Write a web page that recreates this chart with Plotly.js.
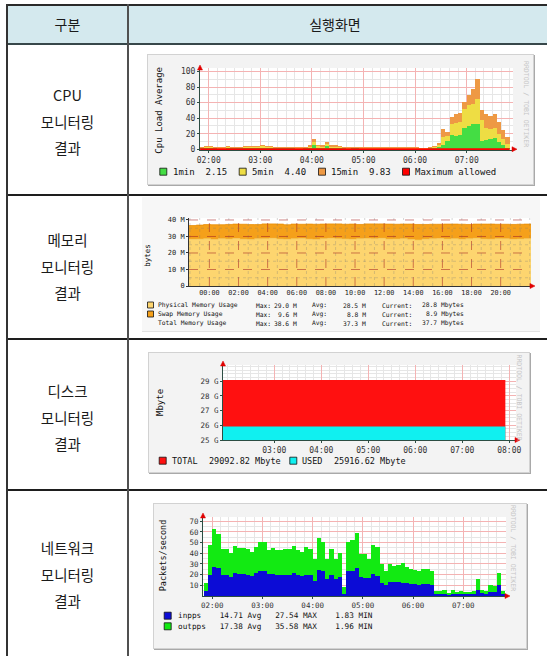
<!DOCTYPE html>
<html lang="ko"><head><meta charset="utf-8">
<script src="https://cdn.plot.ly/plotly-3.0.1.min.js"></script>
<style>
html,body{margin:0;padding:0;background:#fff;}
body{width:547px;height:656px;overflow:hidden;position:relative;font-family:"Noto Sans CJK KR","Noto Sans",sans-serif;}
.ln{position:absolute;}
.cell{position:absolute;text-align:center;color:#1a1a1a;font-size:14.5px;line-height:26.5px;}
.hd{position:absolute;text-align:center;color:#1a1a1a;font-size:14px;line-height:20px;}
.rrd{position:absolute;box-shadow:0 0 0 1px #d2d2d2, 1px 1px 0 1px #a9a9a9;}
.mrtg{position:absolute;box-shadow:0 1px 0 #e2e2e2;}
</style></head><body>
<div class="ln" style="left:7px;top:5px;width:560px;height:39px;background:#d4e9ee"></div>
<div class="ln" style="left:6px;top:4px;width:560px;height:2px;background:#2a2a2a"></div>
<div class="ln" style="left:6px;top:43px;width:560px;height:2px;background:#37474a"></div>
<div class="ln" style="left:6px;top:194px;width:560px;height:2px;background:#1e1e1e"></div>
<div class="ln" style="left:6px;top:338px;width:560px;height:2px;background:#1e1e1e"></div>
<div class="ln" style="left:6px;top:489px;width:560px;height:2px;background:#1e1e1e"></div>
<div class="ln" style="left:6px;top:4px;width:2px;height:660px;background:#333"></div>
<div class="ln" style="left:127px;top:4px;width:2px;height:660px;background:#505050"></div>
<div class="hd" style="left:8px;width:119px;top:14px">구분</div>
<div class="hd" style="left:129px;width:412px;top:14px">실행화면</div>
<div class="cell" style="left:8px;width:119px;top:82px">CPU<br>모니터링<br>결과</div>
<div class="cell" style="left:8px;width:119px;top:227px">메모리<br>모니터링<br>결과</div>
<div class="cell" style="left:8px;width:119px;top:378px">디스크<br>모니터링<br>결과</div>
<div class="cell" style="left:8px;width:119px;top:535px">네트워크<br>모니터링<br>결과</div>

<div id="cpu" class="rrd" style="left:148px;top:55px;width:385px;height:129px"></div>
<div id="mem" class="mrtg" style="left:142px;top:197px;width:398px;height:134px"></div>
<div id="disk" class="rrd" style="left:149px;top:353px;width:380px;height:119px"></div>
<div id="net" class="rrd" style="left:154px;top:504px;width:372px;height:144px"></div>

<script>
// ---------------- DATA ----------------
// CPU load (5-minute steps from 01:50), stacked 1min / 5min / 15min
const cpuStart = '2024-01-01 01:50:00';
const cpuStepMin = 5;
const load1 = [1,1.2,1.1,1,0.8,0.9,1.4,1,1,1.1,1.2,1.1,1.2,1.1,
  1.8,1.3,1.1,1,1,1,1,1,0.8,0.9,1,1.5,
  5.5,1.8,1.4,4,1.6,1.3,1.1,1,0.7,1,1,0.8,
  0.7,0.7,0.9,0.7,0.7,0.7,0.7,0.7,0.7,0.7,0.7,0.7,0.7,0.6,0.6,
  1,2,3,6,10,18,17,18,27,30,33,33,10,12,13,14,9,5,2.15];
const load5 = [1.1,1.3,1.3,1.1,1,1,1.5,1.1,1.1,1.1,1.3,1.3,1.3,1.3,
  1.8,1.4,1.3,1.1,1.1,1.1,1.1,1.1,1,1,1.1,1.5,
  3.5,1.8,1.5,2.5,1.8,1.5,1.3,1.1,0.8,1.1,1.1,1,
  0.8,0.8,1,0.8,0.8,0.8,0.8,0.8,0.8,0.8,0.8,0.8,0.8,0.6,0.6,
  1,1,2,10,7,15,17,17,25,27,25,32,28,15,13,13,11,8,4.40];
const load15 = [1.4,1.5,1.6,1.4,1.2,1.1,1.6,1.4,1.4,1.3,1.5,1.6,1.5,1.6,
  2.4,1.8,1.6,1.4,1.4,1.4,1.4,1.4,1.2,1.1,1.4,2,
  4,2.4,2.1,3,2.6,2.2,1.6,1.4,1,1.4,1.4,1.2,
  1,1,1.1,1,1,1,1,1,1,1,1,1,1,0.8,0.8,
  1,1,3,10,5,9,12,12,9,13,20,25,13,18,17,18,15,12,9.83];
const maxAllowedTimes = ['2024-01-01 01:50:00','2024-01-01 07:50:00'];
const maxAllowed = [0, 0];
const cpuLegendText = ['1min  2.15','5min  4.40','15min  9.83','Maximum allowed'];

// Memory (30-minute steps from 22:36 previous day), stacked, in M
const memStart = '2024-01-01 22:36:00';
const memStepMin = 30;
const memPhysical = [28.3,28.4,28.6,28.2,28.7,28.5,28.8,28.4,28.1,28.6,28.7,28.9,28.5,28.3,28.6,28.8,
  28.4,28.2,28.7,28.9,28.6,28.5,28.3,28.7,28.8,28.6,28.9,28.4,28.5,28.7,28.2,27.9,
  28.4,28.6,28.8,28.5,28.7,28.3,28.6,28.9,28.5,28.4,28.7,28.6,28.3,28.5,28.7,28.8];
const memSwap = [8.3,8.5,8.6,8.9,8.4,8.8,8.7,9.0,9.1,8.6,8.9,8.7,9.0,8.8,8.9,8.6,
  9.1,9.2,8.8,8.7,9.0,8.9,9.2,8.6,8.8,9.0,8.7,9.1,8.9,8.8,9.3,9.4,
  8.9,8.8,8.6,9.0,8.8,9.1,8.7,8.6,9.0,9.1,8.7,8.8,9.0,8.9,8.8,8.9];
const memTickHours = ['2024-01-02 00:00:00','2024-01-02 02:00:00','2024-01-02 04:00:00','2024-01-02 06:00:00',
  '2024-01-02 08:00:00','2024-01-02 10:00:00','2024-01-02 12:00:00','2024-01-02 14:00:00',
  '2024-01-02 16:00:00','2024-01-02 18:00:00','2024-01-02 20:00:00'];
const memYTicks = [0,10,20,30,40];
const memYTickText = ['0','10 M','20 M','30 M','40 M'];
const memLegendRows = [
  ['Physical Memory Usage','29.0 M','28.5 M','28.8 Mbytes'],
  ['Swap Memory Usage','9.6 M','8.8 M','8.9 Mbytes'],
  ['Total Memory Usage','38.6 M','37.3 M','37.7 Mbytes']];

// Disk (Mbyte)
const diskTimes = ['2024-01-01 01:54:30','2024-01-01 07:55:00'];
const diskTotal = [29092.82, 29092.82];
const diskUsed = [25916.62, 25916.62];
const diskYTicks = [25000,26000,27000,28000,29000];
const diskYTickText = ['25 G','26 G','27 G','28 G','29 G'];
const diskXTicks = ['2024-01-01 03:00:00','2024-01-01 04:00:00','2024-01-01 05:00:00',
  '2024-01-01 06:00:00','2024-01-01 07:00:00','2024-01-01 08:00:00'];

// Network packets/second (5-minute steps from 01:50), stacked
const netStart = '2024-01-01 01:50:00';
const netStepMin = 5;
const inpps = [5,20,27,26,20,20,18,22,21,21,20,19,22,23.5,23.5,21,21,20,20,20,20,21.5,20,19,
  20,20,14,24,23,16,20,16,18,2,23,23,26,18,17,17,21,19,12,10,13,13,13,12,
  12,11,11,10,11,11,10,2,2,2,1,2,1.5,2,1.5,1.5,2,6,3,2,4,4,10,2];
const outpps = [7,28,36,32,24,24,22,25,24,24,24,22,24,27.5,27.5,22,24,23,23,24,24,25.5,23,22,
  26,24,21,30,28,19,24,19,22,6,28,29,33,21,22,18,27,27,18,13,17,15,16,19,
  15,14,13,13,14,14,13,3,3,4,2,4,2.5,3,2.5,2.5,3,10,3,3,6,5,12,3];
const netLegendText = ['inpps    14.71 Avg   27.54 MAX    1.83 MIN',
                       'outpps   17.38 Avg   35.58 MAX    1.96 MIN'];

// ---------------- HELPERS ----------------
const mono = 'DejaVu Sans Mono';
const AX = '#2c4d43', MAJ = '#f4b3b3', MIN = '#e6e6e6', ARROW = '#e00000';
function tstr(ms){ return new Date(ms).toISOString().replace('T',' ').slice(0,19); }
function times(start, stepMin, n){
  const b = Date.parse(start.replace(' ','T')+'Z');
  return Array.from({length:n}, (_, i) => tstr(b + i*stepMin*60000));
}
function nb(s){ return s.replace(/ /g, '\u00a0'); }
function px(g, xa){ return (xa - g.left - g.l)/(g.w - g.l - g.r); }
function py(g, ya){ return 1 - (ya - g.top - g.t)/(g.h - g.t - g.b); }
function txt(g, xa, ya, text, size, opt){
  return Object.assign({xref:'paper', yref:'paper', x:px(g,xa), y:py(g,ya), text:nb(text), showarrow:false,
    xanchor:'left', yanchor:'middle', font:{family:mono, size:size, color:'#111'}}, opt||{});
}
function sq(g, cx, cy, s, color){
  return {type:'rect', xref:'paper', yref:'paper', x0:px(g,cx-s/2), x1:px(g,cx+s/2),
    y0:py(g,cy+s/2), y1:py(g,cy-s/2), fillcolor:color, line:{color:'#111', width:0.8}, layer:'above'};
}
function tri(g, pts, color){
  const p = pts.map((q, i) => (i ? 'L' : 'M') + px(g,q[0]) + ',' + py(g,q[1])).join(' ') + ' Z';
  return {type:'path', xref:'paper', yref:'paper', path:p, fillcolor:color, line:{color:color, width:0.5}, layer:'above'};
}
function upArrow(g, x, y){ return tri(g, [[x-2.5,y+5],[x,y],[x+2.5,y+5]], ARROW); }
function rightArrow(g, x, y){ return tri(g, [[x-5,y-2.5],[x,y],[x-5,y+2.5]], ARROW); }
function rrdX(range, extra){
  return Object.assign({type:'date', range:range, tickformat:'%H:%M', dtick:3600000, tick0:'2024-01-01 00:00:00',
    showgrid:true, gridcolor:MAJ, gridwidth:1,
    minor:{dtick:600000, tick0:'2024-01-01 00:00:00', showgrid:true, gridcolor:MIN, gridwidth:1},
    showline:true, linecolor:AX, linewidth:1, ticks:'outside', ticklen:2, tickcolor:AX,
    zeroline:false, automargin:false, fixedrange:true, tickfont:{family:mono, size:8, color:'#333'}}, extra||{});
}
function rrdY(range, dtick, minor, extra){
  return Object.assign({range:range, dtick:dtick, tick0:0, showgrid:true, gridcolor:MAJ, gridwidth:1,
    minor:{dtick:minor, showgrid:true, gridcolor:MIN, gridwidth:1},
    showline:true, linecolor:AX, linewidth:1, ticks:'outside', ticklen:2, tickcolor:AX,
    zeroline:false, automargin:false, fixedrange:true, tickfont:{family:mono, size:8, color:'#333'}}, extra||{});
}
function baseLayout(g){
  return {width:g.w, height:g.h, margin:{l:g.l, r:g.r, t:g.t, b:g.b, pad:0},
    paper_bgcolor:'#f3f3f3', plot_bgcolor:'#ffffff', showlegend:false,
    barmode:'stack', bargap:0, font:{family:mono, size:8, color:'#333'}};
}
const cfg = {staticPlot:true, displayModeBar:false};

// ---------------- CPU ----------------
(function(){
  const g = {left:148, top:55, w:385, h:129, l:52, r:20, t:13, b:34};
  const x = times(cpuStart, cpuStepMin, load1.length);
  const bw = cpuStepMin*60000;
  const cols = ['#44dd44','#eedd44','#ee9944','#ff0000'];
  const bar = (y, c, n) => ({type:'bar', x:x, y:y, width:bw, offset:0, name:n, marker:{color:c, line:{width:0}}});
  const data = [bar(load1, cols[0], '1min'), bar(load5, cols[1], '5min'), bar(load15, cols[2], '15min'),
    {type:'scatter', mode:'lines', x:maxAllowedTimes, y:maxAllowed, name:'Maximum allowed', line:{color:cols[3], width:2}}];
  const L = baseLayout(g);
  L.xaxis = rrdX(['2024-01-01 01:49:54','2024-01-01 07:53:50']);
  L.yaxis = rrdY([-1, 104.7], 20, 10);
  const sqx = [163.3, 242.7, 322, 406], tx = [170.7, 250, 329.3, 413.3];
  L.shapes = [upArrow(g, 200, 65), rightArrow(g, 517, 149.2)];
  L.annotations = [
    txt(g, 158.7, 110, 'Cpu Load Average', 9, {xanchor:'center', textangle:-90}),
    txt(g, 526, 104, 'RRDTOOL / TOBI OETIKER', 6.5, {xanchor:'center', textangle:90, font:{family:mono, size:6.5, color:'#c6c6c6'}})
  ];
  cpuLegendText.forEach((s, i) => {
    L.shapes.push(sq(g, sqx[i], 171.7, 7, cols[i]));
    L.annotations.push(txt(g, tx[i], 171.7, s, 9));
  });
  Plotly.newPlot('cpu', data, L, cfg);
})();

// ---------------- MEMORY ----------------
(function(){
  const g = {left:142, top:197, w:398, h:134, l:47, r:9, t:21, b:45};
  const x = times(memStart, memStepMin, memPhysical.length);
  const cPhys = '#fdd56f', cSwap = '#f5a01a';
  const data = [
    {type:'scatter', mode:'lines', x:x, y:memPhysical, stackgroup:'m', line:{shape:'hv', width:0.6, color:'#f2c95c'}, fillcolor:cPhys, name:'Physical'},
    {type:'scatter', mode:'lines', x:x, y:memSwap, stackgroup:'m', line:{shape:'hv', width:0.8, color:'#e88d06'}, fillcolor:cSwap, name:'Swap'}
  ];
  const L = baseLayout(g);
  L.paper_bgcolor = '#f7f7f7';
  const xr = ['2024-01-01 22:36:00','2024-01-02 22:05:00'];
  L.xaxis = {type:'date', range:xr, tickvals:memTickHours, tickformat:'%H:%M', showgrid:false,
    showline:true, linecolor:'#333', linewidth:1, ticks:'', zeroline:false, automargin:false,
    tickfont:{family:mono, size:6.8, color:'#222'}};
  L.yaxis = {range:[0, 41.2], tickvals:memYTicks, ticktext:memYTickText, showgrid:false,
    showline:true, linecolor:'#333', linewidth:1, ticks:'outside', ticklen:2, tickcolor:'#333',
    zeroline:false, automargin:false, tickfont:{family:mono, size:7, color:'#222'}};
  const shapes = [];
  const majC = 'rgba(165,35,35,0.55)', minC = 'rgba(120,120,120,0.3)';
  // minor vertical grid every 40 min, major every 2 h (drawn above the areas, MRTG style)
  const t0 = Date.parse('2024-01-01T22:40:00Z'), tEnd = Date.parse('2024-01-02T22:05:00Z');
  for (let t = t0; t <= tEnd; t += 40*60000) {
    const major = memTickHours.includes(tstr(t));
    shapes.push({type:'line', xref:'x', yref:'paper', x0:tstr(t), x1:tstr(t), y0:0, y1:1, layer:'above',
      line:{color: major ? majC : minC, width:1, dash: major ? 'dash' : 'dot'}});
  }
  [5,10,15,20,25,30,35,40].forEach(v => {
    const major = v % 10 === 0;
    shapes.push({type:'line', xref:'paper', yref:'y', x0:0, x1:1, y0:v, y1:v, layer:'above',
      line:{color: major ? majC : minC, width:1, dash: major ? 'dash' : 'dot'}});
  });
  shapes.push(rightArrow(g, 535, 286));
  const rowY = [305, 314, 323];
  const cols = [cPhys, cSwap, null];
  const fs = 6.3;
  L.annotations = [txt(g, 146.7, 255, 'bytes', 7.5, {xanchor:'center', textangle:-90})];
  memLegendRows.forEach((r, i) => {
    if (cols[i]) shapes.push(sq(g, 150.5, rowY[i], 6, cols[i]));
    L.annotations.push(txt(g, 156, rowY[i], r[0], fs));
    L.annotations.push(txt(g, 254, rowY[i], 'Max:', fs));
    L.annotations.push(txt(g, 299, rowY[i], r[1], fs, {xanchor:'right'}));
    L.annotations.push(txt(g, 310, rowY[i], 'Avg:', fs));
    L.annotations.push(txt(g, 368, rowY[i], r[2], fs, {xanchor:'right'}));
    L.annotations.push(txt(g, 380, rowY[i], 'Current:', fs));
    L.annotations.push(txt(g, 466, rowY[i], r[3], fs, {xanchor:'right'}));
  });
  L.shapes = shapes;
  Plotly.newPlot('mem', data, L, cfg);
})();

// ---------------- DISK ----------------
(function(){
  const g = {left:149, top:353, w:380, h:119, l:74, r:13, t:12, b:32};
  const cTot = '#ff1010', cUsed = '#10f0f0';
  const data = [
    {type:'scatter', mode:'lines', x:diskTimes, y:diskTotal, fill:'tozeroy', fillcolor:cTot, line:{width:0, color:cTot}, name:'TOTAL'},
    {type:'scatter', mode:'lines', x:diskTimes, y:diskUsed, fill:'tozeroy', fillcolor:cUsed, line:{width:0, color:cUsed}, name:'USED'}
  ];
  const L = baseLayout(g);
  L.xaxis = rrdX(['2024-01-01 01:54:30','2024-01-01 08:08:36'], {tickvals:diskXTicks, dtick:undefined});
  L.yaxis = rrdY([25000, 30110], 1000, 250, {tickvals:diskYTicks, ticktext:diskYTickText, tickfont:{family:mono, size:7.5, color:'#333'}});
  L.shapes = [upArrow(g, 223, 361), rightArrow(g, 520, 440), sq(g, 162.7, 460.7, 7, cTot), sq(g, 293.3, 460.7, 7, cUsed)];
  L.annotations = [
    txt(g, 160, 403, 'Mbyte', 9, {xanchor:'center', textangle:-90}),
    txt(g, 518.5, 397, 'RRDTOOL / TOBI OETIKER', 6.5, {xanchor:'center', textangle:90, font:{family:mono, size:6.5, color:'#c6c6c6'}}),
    txt(g, 170, 460.7, 'TOTAL', 8.5), txt(g, 207.3, 460.7, diskTotal[0].toFixed(2) + ' Mbyte', 8.5),
    txt(g, 300, 460.7, 'USED', 8.5), txt(g, 332.3, 460.7, diskUsed[0].toFixed(2) + ' Mbyte', 8.5)
  ];
  Plotly.newPlot('disk', data, L, cfg);
})();

// ---------------- NETWORK ----------------
(function(){
  const g = {left:154, top:504, w:372, h:144, l:49, r:20, t:13, b:52};
  const x = times(netStart, netStepMin, inpps.length);
  const bw = netStepMin*60000;
  const cIn = '#0c0cd6', cOut = '#12ea12';
  const data = [
    {type:'bar', x:x, y:inpps, width:bw, offset:0, name:'inpps', marker:{color:cIn, line:{width:0}}},
    {type:'bar', x:x, y:outpps, width:bw, offset:0, name:'outpps', marker:{color:cOut, line:{width:0}}}
  ];
  const L = baseLayout(g);
  L.xaxis = rrdX(['2024-01-01 01:49:00','2024-01-01 07:51:00'], {tickfont:{family:mono, size:7.5, color:'#333'}});
  L.yaxis = rrdY([0, 74], 10, 5, {tickvals:[10,20,30,40,50,60,70], tickfont:{family:mono, size:7.5, color:'#333'}});
  L.shapes = [upArrow(g, 203, 513), rightArrow(g, 510, 596), sq(g, 167.7, 615.7, 7, cIn), sq(g, 167.7, 626.3, 7, cOut)];
  L.annotations = [
    txt(g, 163.3, 555, 'Packets/second', 8.5, {xanchor:'center', textangle:-90}),
    txt(g, 513, 548, 'RRDTOOL / TOBI OETIKER', 6.5, {xanchor:'center', textangle:90, font:{family:mono, size:6.5, color:'#c6c6c6'}}),
    txt(g, 176, 615.7, netLegendText[0], 7.7),
    txt(g, 176, 626.3, netLegendText[1], 7.7)
  ];
  Plotly.newPlot('net', data, L, cfg);
})();
</script>
</body></html>
